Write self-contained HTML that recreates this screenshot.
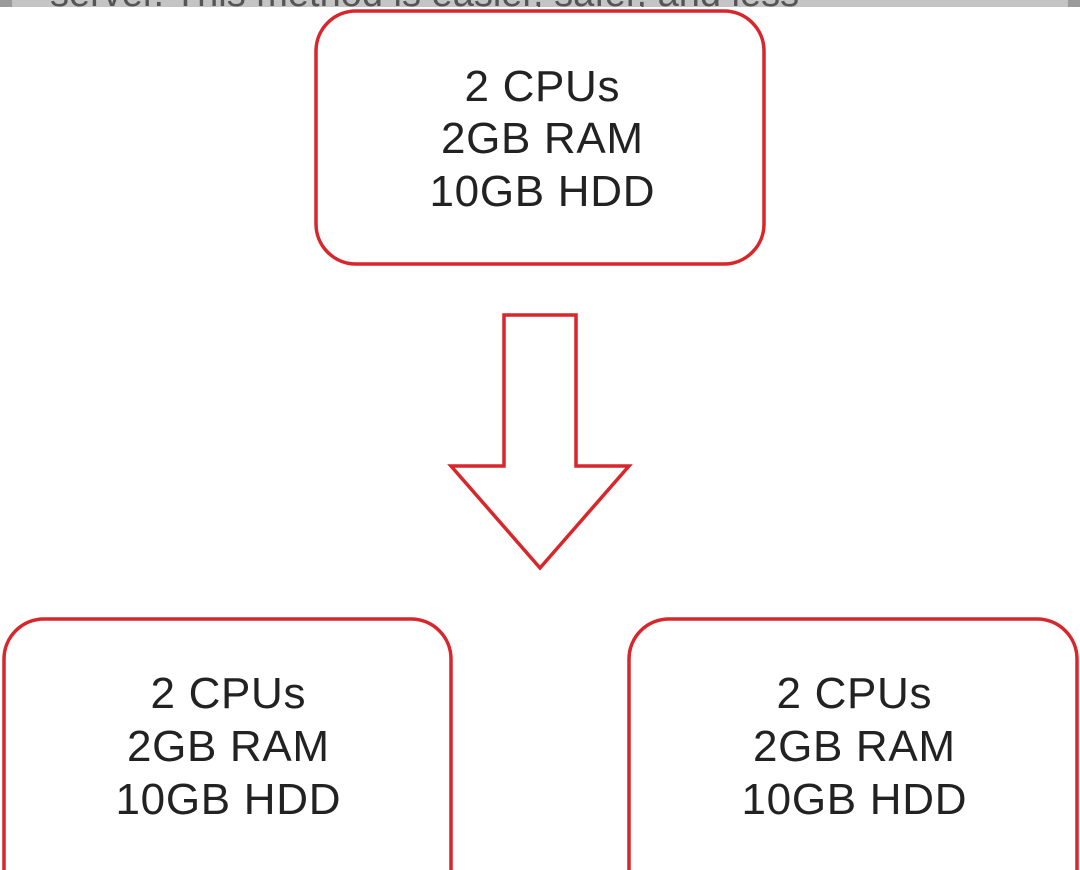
<!DOCTYPE html>
<html><head><style>
html,body{margin:0;padding:0;background:#fff;width:1080px;height:870px;overflow:hidden}
</style></head><body>
<svg width="1080" height="870" xmlns="http://www.w3.org/2000/svg" style="display:block">
<rect x="0" y="0" width="1080" height="7" fill="#9a9a9a"/>
<rect x="12" y="0" width="1056" height="7" fill="#c4c4c4"/>
<text x="50" y="6" font-family="Liberation Sans, sans-serif" font-size="38" fill="#555">server. This method is easier, safer, and less</text>
<rect x="0" y="7" width="1080" height="863" fill="#fff"/>
<g fill="none" stroke="#d8262a" stroke-width="3.5">
<rect x="316" y="11" width="448" height="253" rx="40"/>
<rect x="4" y="619" width="447" height="290" rx="40"/>
<rect x="629" y="619" width="448" height="290" rx="40"/>
<polygon points="504,315 576,315 576,466 629,466 540,568 451,466 504,466" stroke-linejoin="miter"/>
</g>
<g font-family="Liberation Sans, sans-serif" font-size="44" fill="#222" text-anchor="middle">
<text x="542" y="101" textLength="155">2 CPUs</text><text x="542" y="153" textLength="202">2GB RAM</text><text x="542" y="206" textLength="225">10GB HDD</text>
<text x="228" y="708" textLength="155">2 CPUs</text><text x="228" y="761" textLength="202">2GB RAM</text><text x="228" y="814" textLength="225">10GB HDD</text>
<text x="854" y="708" textLength="155">2 CPUs</text><text x="854" y="761" textLength="202">2GB RAM</text><text x="854" y="814" textLength="225">10GB HDD</text>
</g>
</svg>
</body></html>
